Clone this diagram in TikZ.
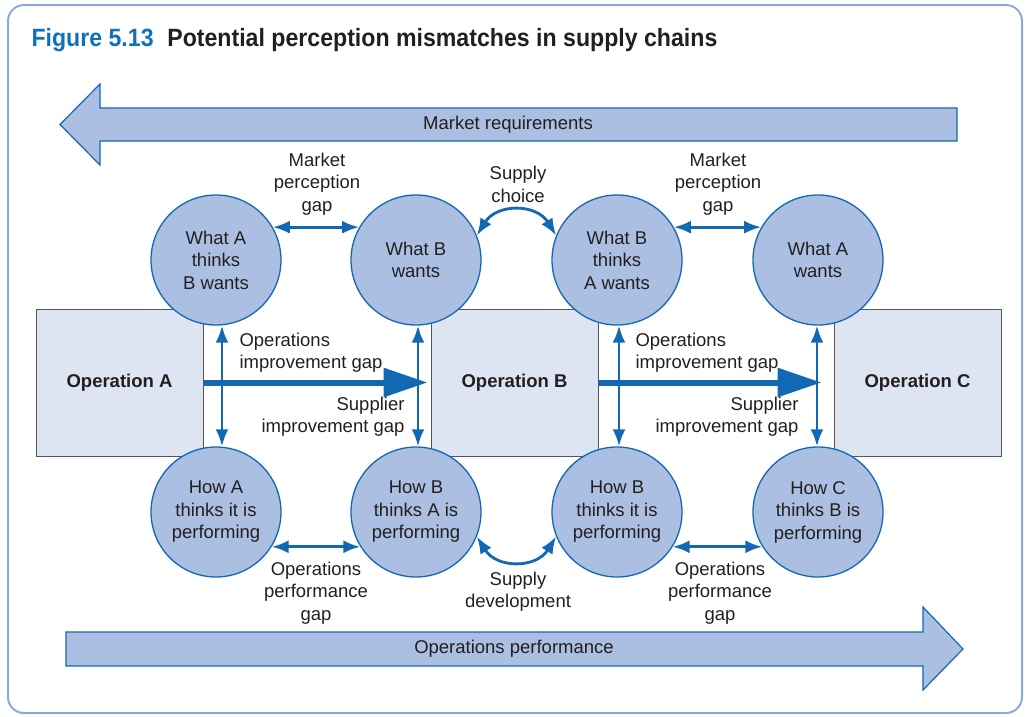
\documentclass[tikz,border=0pt]{standalone}
\usepackage{fontspec}
\setmainfont{Liberation Sans}
\newfontfamily\titlefont[FakeStretch=0.925]{Liberation Sans}
\usepackage{xcolor}
\usetikzlibrary{arrows.meta}

\definecolor{arrblue}{HTML}{1268B3}
\definecolor{bubfill}{HTML}{AABFE1}
\definecolor{boxfill}{HTML}{DEE5F2}
\definecolor{boxgray}{HTML}{555555}
\definecolor{framecol}{HTML}{8DAADB}
\definecolor{figblue}{HTML}{1270B8}
\definecolor{txtgray}{HTML}{231F20}

\begin{document}
\begin{tikzpicture}[
  x=1pt, y=-1pt,
  every node/.style={text=txtgray, font=\fontsize{18.5}{22.5}\selectfont},
  bubble/.style={circle, draw=arrblue, fill=bubfill, line width=1.3pt,
    minimum size=130pt, inner sep=0pt, align=center},
  opbox/.style={draw=boxgray, fill=boxfill, line width=1pt, minimum width=167pt,
    minimum height=147pt, font=\fontsize{18.5}{22.5}\selectfont\bfseries},
  lbl/.style={align=center},
  dbl/.style={{Latex[length=17pt,width=13pt]}-{Latex[length=17pt,width=13pt]},
    line width=2.8pt, draw=arrblue},
  fat/.style={-{Triangle[length=44pt,width=28pt]}, line width=6pt, draw=arrblue},
  bigarr/.style={draw=arrblue, fill=bubfill, line width=1.2pt, line join=miter}
]
\useasboundingbox (0,0) rectangle (1026,716);
\draw[framecol, line width=2pt, rounded corners=16pt] (8,5) rectangle (1022,713);

%% Title
\node[anchor=west] (title) at (28,40) {\titlefont\bfseries\fontsize{25}{28}\selectfont
  \textcolor{figblue}{Figure 5.13}\hspace{0.55em}Potential perception mismatches in supply chains};

%% Big arrows
\draw[bigarr] (957,108) -- (100,108) -- (100,84) -- (60,124.5) -- (100,165)
  -- (100,141) -- (957,141) -- cycle;
\node (mreq) at (508,125) {Market requirements};
\draw[bigarr] (66,632) -- (923,632) -- (923,607) -- (963,649) -- (923,690)
  -- (923,666) -- (66,666) -- cycle;
\node (operf) at (514,649) {Operations performance};

%% Operations
\node[opbox] (opA) at (119.5,382.5) {Operation A};
\node[opbox] (opB) at (514.5,382.5) {Operation B};
\node[opbox] (opC) at (917.5,382.5) {Operation C};

%% Top row
\node[bubble] (wAtB) at (216,260) {What A\\thinks\\B wants};
\node[bubble] (wB)   at (416,260) {What B\\wants};
\node[bubble] (wBtA) at (617,260) {What B\\thinks\\A wants};
\node[bubble] (wA)   at (818,260) {What A\\wants};

%% Bottom row
\node[bubble] (hA)   at (216,512) {How A\\thinks it is\\performing};
\node[bubble] (hBtA) at (416,512) {How B\\thinks A is\\performing};
\node[bubble] (hB)   at (617,512) {How B\\thinks it is\\performing};
\node[bubble] (hCtB) at (818,512) {How C\\thinks B is\\performing};

%% Gaps between top circles
\draw[dbl] (wAtB.30) -- (wB.150);
\node[lbl] (mpgAB) at (317,184) {Market\\perception\\gap};
\draw[dbl] (wB.22) .. controls +(20,-32) and +(-20,-32) .. (wBtA.158);
\node[lbl] (schoice) at (518,184.5) {Supply\\choice};
\draw[dbl] (wBtA.30) -- (wA.150);
\node[lbl] (mpgBA) at (718,184) {Market\\perception\\gap};

%% Gaps between bottom circles
\draw[dbl] (hA.-32) -- (hBtA.-148);
\node[lbl] (opgAB) at (316,593) {Operations\\performance\\gap};
\draw[dbl] (hBtA.-22) .. controls +(20,32) and +(-20,32) .. (hB.-158);
\node[lbl] (sdev) at (518,591.5) {Supply\\development};
\draw[dbl] (hB.-32) -- (hCtB.-148);
\node[lbl] (opgBC) at (720,593) {Operations\\performance\\gap};

%% Improvement gaps
\draw[dbl] ([xshift=6pt]wAtB.south) -- ([xshift=6pt]hA.north);
\draw[dbl] ([xshift=2pt]wB.south) -- ([xshift=2pt]hBtA.north);
\draw[dbl] ([xshift=2pt]wBtA.south) -- ([xshift=2pt]hB.north);
\draw[dbl] ([xshift=-1pt]wA.south) -- ([xshift=-1pt]hCtB.north);
\draw[fat] (opA.east) -- ([xshift=-3pt]opB.west);
\draw[fat] (opB.east) -- ([xshift=-12pt]opC.west);
\node[anchor=west, align=left] (oigA) at (236,352.5) {Operations\\improvement gap};
\node[anchor=east, align=right] (sigA) at (408,416.5) {Supplier\\improvement gap};
\node[anchor=west, align=left] (oigB) at (632,352.5) {Operations\\improvement gap};
\node[anchor=east, align=right] (sigB) at (802,416.5) {Supplier\\improvement gap};
\end{tikzpicture}
\end{document}
